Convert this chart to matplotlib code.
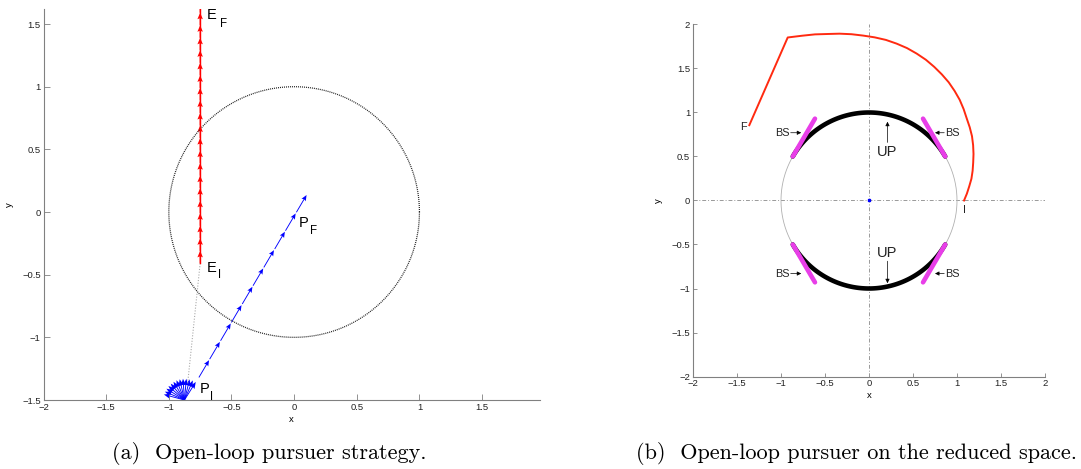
import numpy as np
import matplotlib
matplotlib.use("Agg")
import matplotlib.pyplot as plt

plt.rcParams['font.family'] = ['Liberation Sans', 'DejaVu Sans']

# ---------------- data: panel (a) ----------------
evader_x = -0.75
evader_tail_y = [-0.41, -0.31, -0.21, -0.11, -0.01, 0.09, 0.19, 0.29, 0.39, 0.49,
                 0.59, 0.69, 0.79, 0.89, 0.99, 1.09, 1.19, 1.29, 1.39, 1.49, 1.59]
evader_step = 0.1

pursuer_tail_x = [-0.760, -0.674, -0.587, -0.501, -0.414, -0.328, -0.242, -0.155, -0.069, 0.018]
pursuer_tail_y = [-1.320, -1.174, -1.027, -0.881, -0.734, -0.588, -0.442, -0.295, -0.149, -0.002]
pursuer_u = 0.0813
pursuer_v = 0.1378

fan_origin = (-0.875, -1.5)
fan_angles_deg = [58, 67, 76, 85, 94, 103, 112, 121, 130, 139, 148, 157, 165]
fan_length = 0.17

los_x = [-0.75, -0.85]
los_y = [-0.41, -1.37]
capture_radius = 1.0

# ---------------- data: panel (b) ----------------
# red trajectory read in polar form (angle in degrees, radius), then the final leg to F
red_theta_deg = [0, 4, 8, 12, 16, 20, 24, 28, 32, 36, 40, 44, 48, 52, 56, 60, 64, 68,
                 72, 76, 80, 84, 88, 92, 96, 100, 104, 108, 112, 116.5]
red_r = [1.08, 1.115, 1.15, 1.19, 1.225, 1.26, 1.30, 1.34, 1.38, 1.415, 1.45, 1.495,
         1.54, 1.58, 1.62, 1.655, 1.69, 1.725, 1.755, 1.785, 1.81, 1.835, 1.855, 1.875,
         1.90, 1.925, 1.95, 1.985, 2.02, 2.07]
red_end = (-1.36, 0.856)

up_arcs_deg = [(30, 150), (210, 330)]
bs_segments = [((-0.866, 0.5), (-0.614, 0.93)),
               ((0.614, 0.93), (0.866, 0.5)),
               ((-0.866, -0.5), (-0.614, -0.93)),
               ((0.614, -0.93), (0.866, -0.5))]

ticks_a_x = [-2, -1.5, -1, -0.5, 0, 0.5, 1, 1.5]
ticks_a_y = [-1.5, -1, -0.5, 0, 0.5, 1, 1.5]
ticks_b = [-2, -1.5, -1, -0.5, 0, 0.5, 1, 1.5, 2]


def fmt(v):
    s = ('%g' % v)
    return s.replace('-', '\u2212')


def style_axes(ax, xt, yt, ticklen):
    for s in ['top', 'right']:
        ax.spines[s].set_visible(False)
    for s in ['left', 'bottom']:
        ax.spines[s].set_color('#808080')
        ax.spines[s].set_linewidth(0.8)
    ax.set_xticks(xt)
    ax.set_yticks(yt)
    ax.set_xticklabels([fmt(v) for v in xt])
    ax.set_yticklabels([fmt(v) for v in yt])
    ax.tick_params(direction='in', length=ticklen, width=0.6, color='#808080',
                   labelsize=6.8, labelcolor='#222222', pad=2)


fig = plt.figure(figsize=(10.81, 4.69), dpi=100)

# ---------------- panel (a) ----------------
axa = fig.add_axes([43.5 / 1081, (469 - 400) / 469, 496.5 / 1081, 391 / 469])
axa.set_xlim(-2, 1.962)
axa.set_ylim(-1.5, 1.62)
style_axes(axa, ticks_a_x, ticks_a_y, 4)

th = np.linspace(0, 2 * np.pi, 400)
axa.plot(capture_radius * np.cos(th), capture_radius * np.sin(th), ls=(0, (0.8, 0.8)),
         color='#222222', lw=0.9)
axa.plot(los_x, los_y, ls=(0, (1, 1.5)), color='#aaaaaa', lw=0.8)

axa.plot([evader_x, evader_x], [evader_tail_y[0], 1.62], color='red', lw=1.0)
axa.quiver([evader_x] * len(evader_tail_y), evader_tail_y,
           [0] * len(evader_tail_y), [evader_step] * len(evader_tail_y),
           angles='xy', scale_units='xy', scale=1, color='red',
           units='dots', width=1.0, headwidth=5.5, headlength=6.5, headaxislength=5.5)

axa.quiver(pursuer_tail_x, pursuer_tail_y,
           [pursuer_u] * len(pursuer_tail_x), [pursuer_v] * len(pursuer_tail_x),
           angles='xy', scale_units='xy', scale=1, color='blue',
           units='dots', width=0.9, headwidth=5.5, headlength=6.5, headaxislength=5.5)

fa = np.deg2rad(fan_angles_deg)
axa.quiver([fan_origin[0]] * len(fa), [fan_origin[1]] * len(fa),
           fan_length * np.cos(fa), fan_length * np.sin(fa),
           angles='xy', scale_units='xy', scale=1, color='blue',
           units='dots', width=0.9, headwidth=6, headlength=7.5, headaxislength=6.5,
           clip_on=False)

big = 10.5
small = 8.3
axa.text(-0.70, 1.57, 'E', fontsize=big, va='center', ha='left')
axa.text(-0.59, 1.50, 'F', fontsize=small, va='center', ha='left')
axa.text(-0.70, -0.447, 'E', fontsize=big, va='center', ha='left')
axa.text(-0.605, -0.505, 'I', fontsize=small, va='center', ha='left')
axa.text(0.035, -0.09, 'P', fontsize=big, va='center', ha='left')
axa.text(0.125, -0.155, 'F', fontsize=small, va='center', ha='left')
axa.text(-0.75, -1.415, 'P', fontsize=big, va='center', ha='left')
axa.text(-0.668, -1.475, 'I', fontsize=small, va='center', ha='left')

axa.set_xlabel('x', fontsize=6.8, labelpad=2)
axa.set_ylabel('y', fontsize=6.8, labelpad=6)

# ---------------- panel (b) ----------------
axb = fig.add_axes([693 / 1081, (469 - 376.5) / 469, 352 / 1081, 352 / 469])
axb.set_xlim(-2, 2)
axb.set_ylim(-2, 2)
style_axes(axb, ticks_b, ticks_b, 3)

axb.plot([-2, 2], [0, 0], color='#999999', lw=0.7, dashes=(4, 2, 1, 2))
axb.plot([0, 0], [-2, 2], color='#999999', lw=0.7, dashes=(4, 2, 1, 2))
axb.plot(np.cos(th), np.sin(th), color='#b0b0b0', lw=0.6)
for a0, a1 in up_arcs_deg:
    t = np.deg2rad(np.linspace(a0, a1, 120))
    axb.plot(np.cos(t), np.sin(t), color='black', lw=3.3, solid_capstyle='round')
for (p0, p1) in bs_segments:
    axb.plot([p0[0], p1[0]], [p0[1], p1[1]], color='#e83ee8', lw=3.3,
             solid_capstyle='round')
rt = np.deg2rad(red_theta_deg)
rr = np.asarray(red_r)
red_x = list(rr * np.cos(rt)) + [red_end[0]]
red_y = list(rr * np.sin(rt)) + [red_end[1]]
axb.plot(red_x, red_y, color='#ff2a10', lw=1.4)
axb.plot([0], [0], marker='s', ms=1.6, color='blue', mec='blue')

lbl = 7.8
axb.text(-1.43, 0.84, 'F', fontsize=lbl, ha='center', va='center', color='#222222')
axb.text(1.08, -0.11, 'I', fontsize=lbl, ha='center', va='center', color='#222222')

arrow_kw = dict(arrowstyle='-|>', lw=0.5, color='black', mutation_scale=6,
                shrinkA=0, shrinkB=0)
for y in [0.77, -0.83]:
    axb.text(-0.9, y - 0.005, 'BS', fontsize=lbl, ha='right', va='center', color='#222222')
    axb.annotate('', xy=(-0.77, y), xytext=(-0.89, y), arrowprops=arrow_kw)
    axb.text(0.865, y - 0.005, 'BS', fontsize=lbl, ha='left', va='center', color='#222222')
    axb.annotate('', xy=(0.75, y), xytext=(0.855, y), arrowprops=arrow_kw)

axb.text(0.21, 0.55, 'UP', fontsize=10.5, ha='center', va='center', color='#222222')
axb.annotate('', xy=(0.21, 0.895), xytext=(0.21, 0.66), arrowprops=arrow_kw)
axb.text(0.21, -0.595, 'UP', fontsize=10.5, ha='center', va='center', color='#222222')
axb.annotate('', xy=(0.21, -0.94), xytext=(0.21, -0.69), arrowprops=arrow_kw)

axb.set_xlabel('x', fontsize=6.8, labelpad=2)
axb.set_ylabel('y', fontsize=6.8, labelpad=6)

# ---------------- captions ----------------
fig.text(269 / 1081, (469 - 453) / 469, '(a)  Open-loop pursuer strategy.',
         fontfamily='cmr10', fontsize=16, ha='center', va='center')
fig.text(857 / 1081, (469 - 453) / 469, '(b)  Open-loop pursuer on the reduced space.',
         fontfamily='cmr10', fontsize=16, ha='center', va='center')

fig.savefig('out.png', dpi=100)
